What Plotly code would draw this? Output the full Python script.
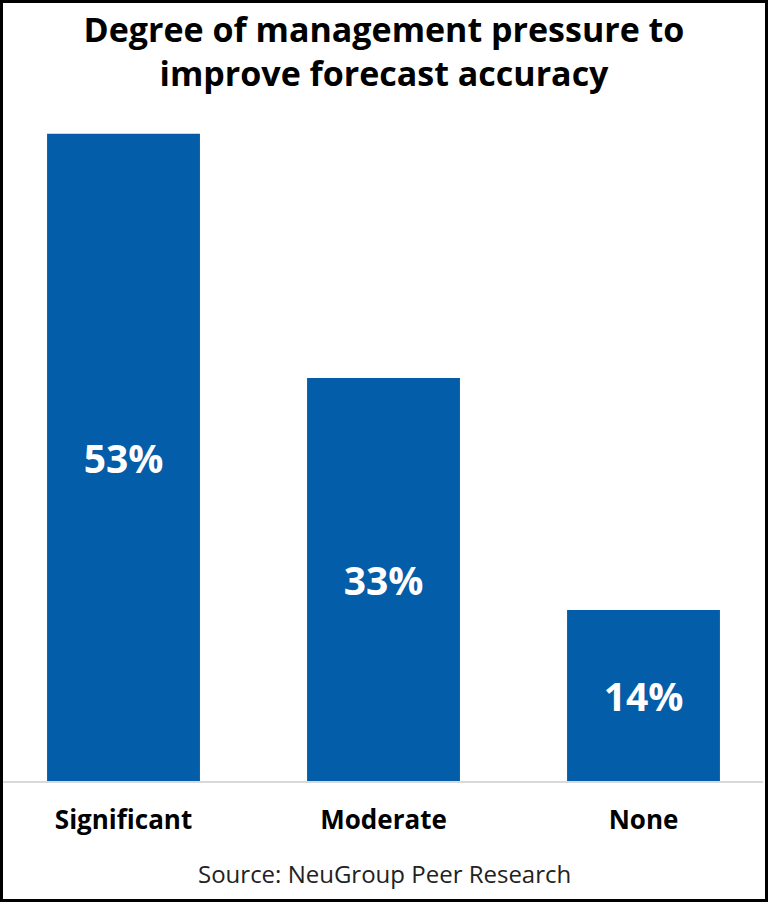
import plotly.graph_objects as go

categories = ["Significant", "Moderate", "None"]
values = [53, 33, 14]
value_labels = ["53%", "33%", "14%"]

W, H = 768, 902
BLUE = "#035DA8"

fig = go.Figure(
    go.Bar(
        x=categories,
        y=values,
        text=value_labels,
        textposition="inside",
        insidetextanchor="middle",
        textangle=0,
        textfont=dict(family="Open Sans", size=39, color="white", weight="bold"),
        marker=dict(color=BLUE, line=dict(width=0)),
        width=0.588,
        hoverinfo="skip",
    )
)

fig.update_layout(
    width=W,
    height=H,
    margin=dict(l=0, r=0, t=0, b=0),
    paper_bgcolor="white",
    plot_bgcolor="white",
    showlegend=False,
    title=dict(
        text="Degree of management pressure to<br>improve forecast accuracy",
        font=dict(family="Open Sans", size=34, color="black", weight="bold"),
        x=0.5,
        xanchor="center",
        xref="paper",
        yref="container",
        y=1 - 42 / H,
        yanchor="middle",
    ),
    xaxis=dict(
        domain=[3 / W, 763 / W],
        range=[-0.4635, 2.4596],
        showline=True,
        linecolor="#D9D9D9",
        linewidth=2,
        showgrid=False,
        ticks="",
        ticklabelstandoff=15,
        tickfont=dict(family="Open Sans", size=26, color="black", weight="bold"),
        automargin=False,
        fixedrange=True,
    ),
    yaxis=dict(
        domain=[1 - 781 / H, 1 - 97 / H],
        range=[0, 56],
        visible=False,
        showgrid=False,
        zeroline=False,
        automargin=False,
        fixedrange=True,
    ),
    annotations=[
        dict(
            text="Source: NeuGroup Peer Research",
            xref="paper",
            yref="paper",
            x=0.5,
            y=1 - 873 / H,
            xanchor="center",
            yanchor="middle",
            showarrow=False,
            font=dict(family="Open Sans", size=24, color="#222222"),
        )
    ],
    shapes=[
        dict(
            type="rect",
            xref="paper",
            yref="paper",
            x0=0,
            x1=1,
            y0=0,
            y1=1,
            line=dict(color="black", width=6),
            fillcolor="rgba(0,0,0,0)",
            layer="above",
        )
    ],
)

fig.write_html(
    "out.html",
    config={"displayModeBar": False},
    post_script="document.body.style.margin='0';document.body.style.overflow='hidden';",
)
